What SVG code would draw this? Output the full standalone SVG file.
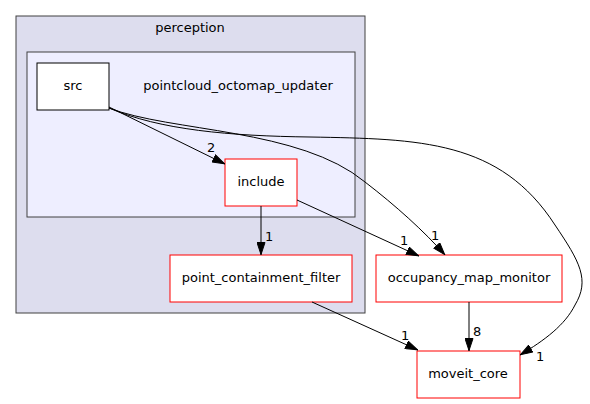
<svg xmlns="http://www.w3.org/2000/svg" width="590" height="404" viewBox="0 0 590 404">
<defs>
<style>
text{font-family:"DejaVu Sans","Liberation Sans",sans-serif;font-size:13px;fill:#000}
.n{fill:#fff;stroke:#ff0000;stroke-width:1}
.e{fill:none;stroke:#000;stroke-width:1}
.t{text-anchor:middle}
</style>
<marker id="a" viewBox="0 0 13 9" refX="13" refY="4.5" markerWidth="13" markerHeight="9" markerUnits="userSpaceOnUse" orient="auto">
<path d="M0.5,0.5 L12.5,4.5 L0.5,8.5 z" fill="#000" stroke="#000" stroke-width="1"/>
</marker>
</defs>
<rect width="590" height="404" fill="#fff"/>
<g id="cluster_perception">
<rect x="16" y="16" width="349" height="297" fill="#ddddee" stroke="#404040"/>
<text class="t" x="190" y="32">perception</text>
</g>
<g id="cluster_pointcloud_octomap_updater">
<rect x="27" y="52" width="328" height="165" fill="#eeeeff" stroke="#404040"/>
<text class="t" x="238" y="90">pointcloud_octomap_updater</text>
</g>
<g id="src">
<rect x="37" y="63" width="72" height="47" fill="#fff" stroke="#000"/>
<text class="t" x="73" y="90">src</text>
</g>
<g id="include">
<rect class="n" x="225" y="159" width="72" height="47"/>
<text class="t" x="261" y="186">include</text>
</g>
<g id="point_containment_filter">
<rect class="n" x="170" y="255" width="182" height="47"/>
<text class="t" x="261" y="282">point_containment_filter</text>
</g>
<g id="occupancy_map_monitor">
<rect class="n" x="376" y="255" width="186" height="47"/>
<text class="t" x="469" y="282">occupancy_map_monitor</text>
</g>
<g id="moveit_core">
<rect class="n" x="417" y="351" width="103" height="47"/>
<text class="t" x="468" y="378">moveit_core</text>
</g>
<g id="edges">
<path class="e" d="M109,107 L225,164" marker-end="url(#a)"/>
<text x="207" y="152">2</text>
<path class="e" d="M109,108 C170,132 300,128 365,182 C395,205 425,232 445,255" marker-end="url(#a)"/>
<text x="431" y="240">1</text>
<path class="e" d="M109,108 C160,130 230,136 310,137 C420,139 500,140 555,225 C580,262 590,280 575,305 C565,325 545,340 520,355" marker-end="url(#a)"/>
<text x="536" y="361">1</text>
<path class="e" d="M297,200 L419,256" marker-end="url(#a)"/>
<text x="400" y="245">1</text>
<path class="e" d="M261,206 L261,255" marker-end="url(#a)"/>
<text x="265" y="241">1</text>
<path class="e" d="M312,302 L418,350" marker-end="url(#a)"/>
<text x="401" y="340">1</text>
<path class="e" d="M469,302 L469,351" marker-end="url(#a)"/>
<text x="473" y="336">8</text>
</g>
</svg>
